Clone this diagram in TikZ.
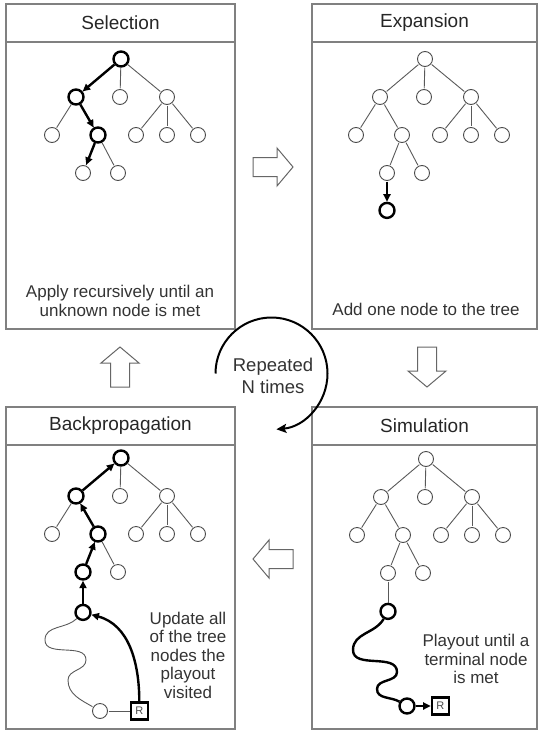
\documentclass[tikz,border=0pt]{standalone}
\usepackage{fontspec}
\setmainfont{Liberation Sans}
\usetikzlibrary{arrows.meta,positioning}

\tikzset{
  panel/.style={draw=black!50, line width=1.5pt},
  vtx/.style={circle, draw=black!70, line width=0.9pt, fill=white, minimum size=15pt, inner sep=0pt, outer sep=1.2pt},
  bvtx/.style={vtx, draw=black, line width=2.4pt},
  treeedge/.style={draw=black!65, line width=0.9pt},
  thick path/.style={line width=2.4pt, black},
  barrow/.style={thick path, -{Triangle[length=7.5pt,width=7pt]}},
  rbox/.style={rectangle, draw=black, line width=2.2pt, minimum width=17pt, minimum height=17pt, inner sep=0pt, outer sep=1.1pt, font=\fontsize{11}{11}\selectfont, text=black!70},
  blockarr/.style={draw=black!60, line width=1pt, fill=white},
  ttl/.style={font=\fontsize{19}{19}\selectfont, text=black!85},
  note/.style={font=\fontsize{17}{18.5}\selectfont, text=black!80, align=center},
  looparrow/.style={line width=2pt, -{Stealth[length=10pt,width=9pt,inset=2pt]}},
  % nodes of the path that are drawn bold
  bold sel-r/.style=bvtx, bold sel-a/.style=bvtx, bold sel-ab/.style=bvtx,
  bold back-r/.style=bvtx, bold back-a/.style=bvtx, bold back-ab/.style=bvtx, bold back-aba/.style=bvtx,
}

\begin{document}
\begin{tikzpicture}[x=1pt,y=1pt]
	\useasboundingbox (0,0) rectangle (538,-731);
	% four panels, each with the same tree
	\foreach \p/\px/\py/\w/\h/\name/\rx/\ry in {sel/6/4/229/325/Selection/121/59, exp/312/4/225/325/Expansion/425/59, back/6/407/229/322/Backpropagation/121/458, sim/312/407/225/322/Simulation/426/459}{
		\draw[panel] (\px,-\py) rectangle ++(\w,-\h);
		\draw[panel] (\px,-\py-38) -- ++(\w,0);
		\node[ttl] (\p-title) at (\px+\w/2,-\py-19) {\name};
		\begin{scope}[shift={(\rx,-\ry)}]
			\foreach \n/\x/\y in {r/0/0, a/-45/-38, b/-1/-38, c/46/-38, aa/-69/-76, ab/-23/-76, ca/15/-76, cb/46/-76, cc/77/-76, aba/-38/-114, abb/-3/-114}
				\node[vtx, bold \p-\n/.try] (\p-\n) at (\x,\y) {};
			\foreach \s/\t in {r/a, r/b, r/c, a/aa, a/ab, c/ca, c/cb, c/cc, ab/aba, ab/abb}
				\draw[treeedge] (\p-\s) -- (\p-\t);
		\end{scope}
	}
	
	% Selection
	\draw[barrow] (sel-r) -- (sel-a);
	\draw[barrow] (sel-a) -- (sel-ab);
	\draw[barrow] (sel-ab) -- (sel-aba);
	\node[note] (sel-text) at (120,-301) {Apply recursively until an\\unknown node is met};
	
	% Expansion
	\node[bvtx, below=20pt of exp-aba] (exp-new) {};
	\draw[barrow] (exp-aba) -- (exp-new);
	\node[note] (exp-text) at (426,-309) {Add one node to the tree};
	
	% Simulation
	\node[bvtx, below=21pt of sim-aba] (sim-end) {};
	\draw[treeedge] (sim-aba) -- (sim-end);
	\node[bvtx] (sim-leaf) at (407,-706) {};
	\node[rbox, right=15pt of sim-leaf] (sim-R) {R};
	\draw[thick path] (sim-end) to[out=240,in=90] (353,-650) to[out=270,in=90] (397,-672) to[out=270,in=90] (377,-689) to[out=270,in=150] (sim-leaf);
	\draw[barrow] (sim-leaf) -- (sim-R);
	\node[note] (sim-text) at (476,-659) {Playout until a\\terminal node\\is met};
	
	% Backpropagation
	\node[bvtx, below=23pt of back-aba] (back-end) {};
	\node[vtx] (back-leaf) at (100,-711) {};
	\node[rbox, right=21pt of back-leaf] (back-R) {R};
	\draw[treeedge] (back-end) to[out=225,in=90] (45,-640) to[out=270,in=90] (86,-660) to[out=270,in=90] (68,-680) to[out=270,in=150] (back-leaf);
	\draw[treeedge] (back-leaf) -- (back-R);
	\draw[barrow] (back-R) to[out=90,in=-15] (back-end);
	\draw[barrow] (back-end) -- (back-aba);
	\draw[barrow] (back-aba) -- (back-ab);
	\draw[barrow] (back-ab) -- (back-a);
	\draw[barrow] (back-a) -- (back-r);
	\node[note] (back-text) at (188,-655) {Update all\\of the tree\\nodes the\\playout\\visited};
	
	% block arrows between the steps
	\foreach \ax/\ay/\rot in {273/167/0, 427/367/-90, 273/559/180, 120/367/90}
		\draw[blockarr, shift={(\ax,-\ay)}, rotate=\rot] (-20,-9.5) -- (4,-9.5) -- (4,-19) -- (20,0) -- (4,19) -- (4,9.5) -- (-20,9.5) -- cycle;
	
	% the loop in the middle
	\coordinate (loop) at (271.5,-373.5);
	\node[note, font=\fontsize{18.5}{22}\selectfont] (rep) at (273,-376) {Repeated\\N times};
	\draw[looparrow] (loop) ++(180:56) arc[start angle=180, end angle=-85, radius=56];
\end{tikzpicture}
\end{document}
